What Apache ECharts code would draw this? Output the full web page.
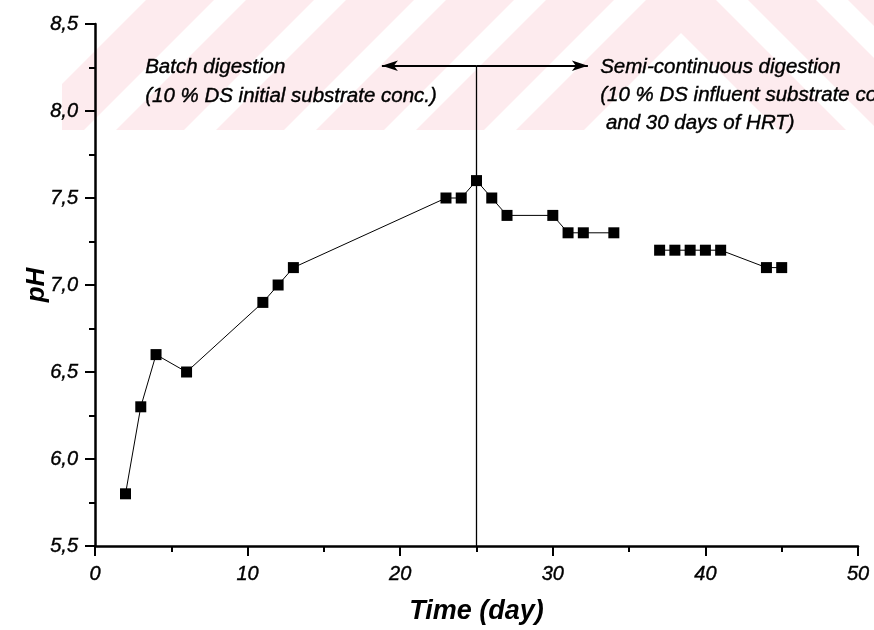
<!DOCTYPE html>
<html>
<head>
<meta charset="utf-8">
<script src="https://cdn.jsdelivr.net/npm/echarts@6/dist/echarts.min.js"></script>
<style>
  html, body { margin: 0; padding: 0; background: #fff; }
  #chart { width: 874px; height: 630px; }
</style>
</head>
<body>
<div id="chart"></div>
<script>
// pH during batch digestion (up to day 34) and semi-continuous operation
const batchDays = [2, 3, 4, 6, 11, 12, 13, 23, 24, 25, 26, 27, 30, 31, 32, 34];
const batchPH   = [5.8, 6.3, 6.6, 6.5, 6.9, 7.0, 7.1, 7.5, 7.5, 7.6, 7.5, 7.4, 7.4, 7.3, 7.3, 7.3];
const laterDays = [37, 38, 39, 40, 41, 44, 45];
const laterPH   = [7.2, 7.2, 7.2, 7.2, 7.2, 7.1, 7.1];

const xTicks = [0, 10, 20, 30, 40, 50];
const yTicks = [5.5, 6.0, 6.5, 7.0, 7.5, 8.0, 8.5];

// switch from batch to semi-continuous feeding, and extent of the phase arrows
const switchDay = 25;
const arrowLevel = 8.26;
const arrowLeftEnd = 18.8;
const arrowRightEnd = 32.3;

const FONT = '"Liberation Sans", Arial, sans-serif';

function pairs(xs, ys) { return xs.map((x, i) => [x, ys[i]]); }

// ---- faint striped band behind the top of the plot ----
function clipPoly(poly, x0, x1, y0, y1) {
  const edges = [
    p => p[0] >= x0, p => p[0] <= x1, p => p[1] >= y0, p => p[1] <= y1
  ];
  const cuts = [
    (a, b) => { const t = (x0 - a[0]) / (b[0] - a[0]); return [x0, a[1] + t * (b[1] - a[1])]; },
    (a, b) => { const t = (x1 - a[0]) / (b[0] - a[0]); return [x1, a[1] + t * (b[1] - a[1])]; },
    (a, b) => { const t = (y0 - a[1]) / (b[1] - a[1]); return [a[0] + t * (b[0] - a[0]), y0]; },
    (a, b) => { const t = (y1 - a[1]) / (b[1] - a[1]); return [a[0] + t * (b[0] - a[0]), y1]; }
  ];
  let out = poly;
  for (let e = 0; e < 4; e++) {
    const inp = out; out = [];
    for (let i = 0; i < inp.length; i++) {
      const cur = inp[i], prev = inp[(i + inp.length - 1) % inp.length];
      const ci = edges[e](cur), pi = edges[e](prev);
      if (ci) { if (!pi) out.push(cuts[e](prev, cur)); out.push(cur); }
      else if (pi) out.push(cuts[e](prev, cur));
    }
    if (!out.length) break;
  }
  return out;
}
const bandH = 130, apexX = 681, stripeW = 68;
const stripeStarts = [16, 116, 216, 316, 416, 516];
const stripes = [];
stripeStarts.forEach(b => {
  const p = [[b, bandH], [b + stripeW, bandH], [b + stripeW + bandH, 0], [b + bandH, 0]];
  const left = clipPoly(p, 62, apexX, 0, bandH);
  const mirrored = p.map(q => [2 * apexX - q[0], q[1]]);
  const right = clipPoly(mirrored, apexX, 874, 0, bandH);
  [left, right].forEach(poly => {
    if (poly.length > 2) {
      stripes.push({
        type: 'polygon', silent: true, z: -10,
        shape: { points: poly },
        style: { fill: '#fdebee' }
      });
    }
  });
});

const chart = echarts.init(document.getElementById('chart'), null, { renderer: 'canvas' });

const markerSeries = (data) => ({
  type: 'line',
  data: data,
  symbol: 'rect',
  symbolSize: 11,
  itemStyle: { color: '#000' },
  lineStyle: { color: '#000', width: 1 },
  z: 5
});

const first = markerSeries(pairs(batchDays, batchPH));
first.markLine = {
  silent: true,
  animation: false,
  symbol: ['none', 'arrow'],
  symbolSize: [8, 16],
  label: { show: false },
  lineStyle: { color: '#000', type: 'solid', width: 2 },
  data: [
    [{ coord: [switchDay, yTicks[0]], symbol: 'none', lineStyle: { width: 1.3 } },
     { coord: [switchDay, arrowLevel], symbol: 'none' }],
    [{ coord: [switchDay, arrowLevel] }, { coord: [arrowLeftEnd, arrowLevel] }],
    [{ coord: [switchDay, arrowLevel] }, { coord: [arrowRightEnd, arrowLevel] }]
  ]
};

const tickLabel = {
  fontSize: 20, fontStyle: 'italic', color: '#000', fontFamily: FONT,
  textBorderColor: '#000', textBorderWidth: 0.4
};

const noteStyle = {
  fontSize: 20.5, fontStyle: 'italic', fontFamily: FONT, fill: '#000',
  stroke: '#000', lineWidth: 0.4
};

const option = {
  animation: false,
  backgroundColor: '#fff',
  textStyle: { fontFamily: FONT },
  grid: { left: 95, right: 16, top: 24, bottom: 84, containLabel: false },
  xAxis: {
    type: 'value',
    min: xTicks[0], max: xTicks[xTicks.length - 1], interval: 10,
    name: 'Time (day)',
    nameLocation: 'middle',
    nameGap: 52,
    nameMoveOverlap: false,
    nameTextStyle: { fontSize: 27, fontWeight: 'bold', fontStyle: 'italic', color: '#000', fontFamily: FONT },
    axisLine: { onZero: false, lineStyle: { color: '#000', width: 2.5 } },
    axisTick: { length: 10, lineStyle: { color: '#000', width: 2 } },
    minorTick: { show: true, splitNumber: 2, length: 6, lineStyle: { color: '#000', width: 2 } },
    splitLine: { show: false },
    axisLabel: Object.assign({ margin: 18, formatter: v => String(v) }, tickLabel)
  },
  yAxis: {
    type: 'value',
    min: yTicks[0], max: yTicks[yTicks.length - 1], interval: 0.5,
    name: 'pH',
    nameLocation: 'middle',
    nameGap: 45,
    nameMoveOverlap: false,
    nameTextStyle: { fontSize: 26, fontWeight: 'bold', fontStyle: 'italic', color: '#000', fontFamily: FONT },
    axisLine: { onZero: false, lineStyle: { color: '#000', width: 2.5 } },
    axisTick: { length: 10, lineStyle: { color: '#000', width: 2 } },
    minorTick: { show: true, splitNumber: 2, length: 6, lineStyle: { color: '#000', width: 2 } },
    splitLine: { show: false },
    axisLabel: Object.assign({ margin: 17, formatter: v => v.toFixed(1).replace('.', ',') }, tickLabel)
  },
  series: [first, markerSeries(pairs(laterDays, laterPH))],
  graphic: stripes.concat([
    {
      type: 'text', left: 145, top: 53, z: 100, silent: true,
      style: Object.assign({
        text: 'Batch digestion\n(10 % DS initial substrate conc.)', lineHeight: 29
      }, noteStyle)
    },
    {
      type: 'text', left: 600, top: 53, z: 100, silent: true,
      style: Object.assign({
        text: 'Semi-continuous digestion\n(10 % DS influent substrate conc.\n and 30 days of HRT)', lineHeight: 28
      }, noteStyle)
    }
  ])
};

chart.setOption(option);
</script>
</body>
</html>
